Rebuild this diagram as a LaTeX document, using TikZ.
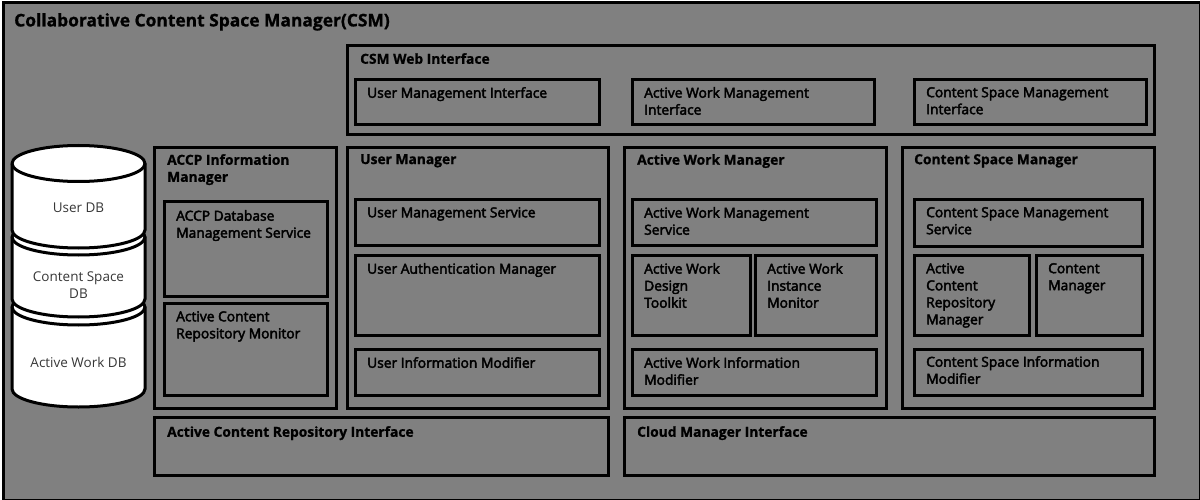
\documentclass[tikz,border=0pt]{standalone}
\usepackage{fontspec}
\setmainfont{Open Sans}
\newfontfamily\hdfont{Open Sans}[FakeBold=1]
\newfontfamily\lbfont{Open Sans}[FakeBold=3]
\newfontfamily\dbfont{Open Sans}
\definecolor{bgray}{RGB}{128,128,128}
\definecolor{dbtext}{RGB}{55,55,55}
\newcommand\mybox[5]{\node[frame, minimum width={(#4)-(#2)}, minimum height={(#5)-(#3)}] (#1) at (#2,#3) {};}
\newcommand\mytext[5]{\node[#2] (#1) at (#3,{#4-6}) {#5};}
\begin{document}
\begin{tikzpicture}[x=1pt,y=-1pt,
  frame/.style={draw=black, line width=3pt, fill=bgray, rectangle, inner sep=0pt, anchor=north west},
  lbl/.style={inner sep=0pt, anchor=north west, align=left, text=black, font=\lbfont\fontsize{13.8}{17}\selectfont},
  hdr/.style={inner sep=0pt, anchor=north west, align=left, text=black, font=\hdfont\bfseries\fontsize{13.8}{17}\selectfont},
  ttl/.style={inner sep=0pt, anchor=north west, text=black, font=\hdfont\bfseries\fontsize{17.4}{20}\selectfont},
  dbl/.style={inner sep=0pt, align=center, text=dbtext, font=\dbfont\fontsize{13.5}{17}\selectfont},
  cyl/.style={draw=black, line width=3pt, fill=white}]
\useasboundingbox (0,0) rectangle (1200,500);
% outer frame
\node[frame, minimum width=1197pt, minimum height=497pt] (csm) at (1.5,1.5) {};
\mytext{csmt}{ttl}{14}{19}{Collaborative Content Space Manager(CSM)}
% web interface
\mybox{web}{346}{44}{1153}{133}
\mytext{webt}{hdr}{360}{59}{CSM Web Interface}
\mybox{umi}{354}{78}{598}{123}
\mytext{umit}{lbl}{367}{93}{User Management Interface}
\mybox{awmi}{631}{78}{873}{123}
\mytext{awmit}{lbl}{644}{93}{Active Work Management\\Interface}
\mybox{csmi}{913}{78}{1145}{123}
\mytext{csmit}{lbl}{926}{93}{Content Space Management\\Interface}
% ACCP
\mybox{accp}{153}{146}{335}{407}
\mytext{accpt}{hdr}{167}{160}{ACCP Information\\Manager}
\mybox{accpdb}{163}{200}{326}{295}
\mytext{accpdbt}{lbl}{176}{216}{ACCP Database\\Management Service}
\mybox{acrm}{163}{302}{326}{394}
\mytext{acrmt}{lbl}{176}{317}{Active Content\\Repository Monitor}
% User Manager
\mybox{um}{346}{146}{607}{407}
\mytext{umt}{hdr}{360}{160}{User Manager}
\mybox{ums}{354}{198}{598}{244}
\mytext{umst}{lbl}{367}{213}{User Management Service}
\mybox{uam}{354}{254}{598}{334}
\mytext{uamt}{lbl}{367}{269}{User Authentication Manager}
\mybox{uim}{354}{348}{598}{394}
\mytext{uimt}{lbl}{367}{363}{User Information Modifier}
% Active Work Manager
\mybox{awm}{623}{146}{885}{407}
\mytext{awmt}{hdr}{637}{160}{Active Work Manager}
\mybox{awms}{631}{198}{875}{244}
\mytext{awmst}{lbl}{644}{213}{Active Work Management\\Service}
\mybox{awdt}{631}{254}{749}{334}
\mytext{awdtt}{lbl}{644}{269}{Active Work\\Design\\Toolkit}
\mybox{awim}{754}{254}{875}{334}
\mytext{awimt}{lbl}{767}{269}{Active Work\\Instance\\Monitor}
\mybox{awif}{631}{348}{875}{394}
\mytext{awift}{lbl}{644}{363}{Active Work Information\\Modifier}
% Content Space Manager
\mybox{csman}{901}{146}{1153}{407}
\mytext{csmant}{hdr}{914}{160}{Content Space Manager}
\mybox{csms}{913}{198}{1141}{245}
\mytext{csmst}{lbl}{926}{213}{Content Space Management\\Service}
\mybox{acrman}{913}{254}{1028}{334}
\mytext{acrmant}{lbl}{926}{269}{Active\\Content\\Repository\\Manager}
\mybox{cm}{1035}{254}{1141}{334}
\mytext{cmt}{lbl}{1048}{269}{Content\\Manager}
\mybox{csif}{913}{348}{1141}{394}
\mytext{csift}{lbl}{926}{362}{Content Space Information\\Modifier}
% bottom interfaces
\mybox{acri}{153}{416}{607}{474}
\mytext{acrit}{hdr}{167}{432}{Active Content Repository Interface}
\mybox{cmi}{623}{416}{1153}{474}
\mytext{cmit}{hdr}{637}{432}{Cloud Manager Interface}
% databases (cylinders)
\path[cyl] (12,307) -- (12,389) arc[start angle=180, end angle=0, x radius=66.5, y radius=18] -- (145,307) arc[start angle=0, end angle=-180, x radius=66.5, y radius=18] -- cycle;
\draw[line width=3pt] (12,307) arc[start angle=180, end angle=0, x radius=66.5, y radius=18];
\path[cyl] (12,237) -- (12,299) arc[start angle=180, end angle=0, x radius=66.5, y radius=18] -- (145,237) arc[start angle=0, end angle=-180, x radius=66.5, y radius=18] -- cycle;
\draw[line width=3pt] (12,237) arc[start angle=180, end angle=0, x radius=66.5, y radius=18];
\path[cyl] (12,163.5) -- (12,230) arc[start angle=180, end angle=0, x radius=66.5, y radius=18] -- (145,163.5) arc[start angle=0, end angle=-180, x radius=66.5, y radius=18] -- cycle;
\draw[line width=3pt] (12,163.5) arc[start angle=180, end angle=0, x radius=66.5, y radius=18];
\node[dbl] (udb) at (78.5,208) {User DB};
\node[dbl] (csdb) at (78.5,285.5) {Content Space\\DB};
\node[dbl] (awdb) at (78.5,362) {Active Work DB};
\end{tikzpicture}
\end{document}
